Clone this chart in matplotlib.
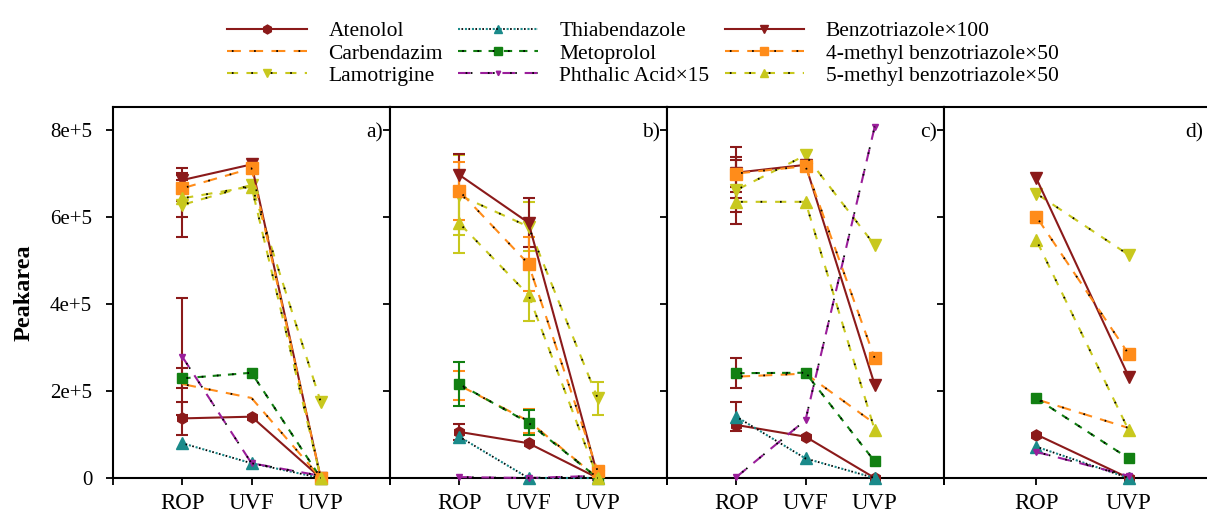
import numpy as np
import matplotlib
matplotlib.use("Agg")
import matplotlib.pyplot as plt
from matplotlib.legend_handler import HandlerTuple

plt.rcParams["font.family"] = ["Liberation Serif", "DejaVu Serif"]
plt.rcParams["lines.scale_dashes"] = False

###############
# The data    #
###############
series = ["Atenolol", "Carbendazim", "Lamotrigine",
          "Thiabendazole", "Metoprolol", "Phthalic Acid×15",
          "Benzotriazole×100", "4-methyl benzotriazole×50", "5-methyl benzotriazole×50"]

cats_abc = ["ROP", "UVF", "UVP"]
cats_d = ["ROP", "UVP"]
panel_labels = ["a)", "b)", "c)", "d)"]
ytick_values = [0, 2e5, 4e5, 6e5, 8e5]
ytick_labels = ["0", "2e+5", "4e+5", "6e+5", "8e+5"]

# peak areas, one list per series, per panel
panel_a = {
    "Atenolol": [137e3, 141e3, 0],
    "Carbendazim": [216e3, 184e3, 0],
    "Lamotrigine": [628e3, 674e3, 175e3],
    "Thiabendazole": [80e3, 34e3, 0],
    "Metoprolol": [229e3, 242e3, 0],
    "Phthalic Acid×15": [279e3, 34e3, 5e3],
    "Benzotriazole×100": [685e3, 721e3, 0],
    "4-methyl benzotriazole×50": [666e3, 712e3, 0],
    "5-methyl benzotriazole×50": [643e3, 670e3, 0],
}
panel_a_err = {
    "Atenolol": [38e3, 0, 0],
    "Lamotrigine": [73e3, 0, 0],
    "Metoprolol": [23e3, 0, 0],
    "Phthalic Acid×15": [134e3, 0, 0],
    "Benzotriazole×100": [27e3, 0, 0],
    "4-methyl benzotriazole×50": [30e3, 0, 0],
    "5-methyl benzotriazole×50": [42e3, 0, 0],
}

panel_b = {
    "Atenolol": [106e3, 80e3, 0],
    "Carbendazim": [213e3, 131e3, 0],
    "Lamotrigine": [650e3, 578e3, 183e3],
    "Thiabendazole": [95e3, 0, 0],
    "Metoprolol": [216e3, 127e3, 0],
    "Phthalic Acid×15": [2e3, 0, 5e3],
    "Benzotriazole×100": [697e3, 587e3, 5e3],
    "4-methyl benzotriazole×50": [660e3, 492e3, 15e3],
    "5-methyl benzotriazole×50": [586e3, 421e3, 0],
}
panel_b_err = {
    "Atenolol": [19e3, 0, 0],
    "Carbendazim": [33e3, 27e3, 0],
    "Lamotrigine": [92e3, 57e3, 38e3],
    "Metoprolol": [50e3, 29e3, 0],
    "Phthalic Acid×15": [0, 0, 10e3],
    "Benzotriazole×100": [48e3, 56e3, 0],
    "4-methyl benzotriazole×50": [67e3, 63e3, 0],
    "5-methyl benzotriazole×50": [69e3, 61e3, 0],
}

panel_c = {
    "Atenolol": [122e3, 95e3, 0],
    "Carbendazim": [233e3, 240e3, 125e3],
    "Lamotrigine": [662e3, 742e3, 535e3],
    "Thiabendazole": [141e3, 45e3, 0],
    "Metoprolol": [241e3, 242e3, 38e3],
    "Phthalic Acid×15": [2e3, 133e3, 808e3],
    "Benzotriazole×100": [702e3, 720e3, 214e3],
    "4-methyl benzotriazole×50": [700e3, 717e3, 275e3],
    "5-methyl benzotriazole×50": [635e3, 635e3, 110e3],
}
panel_c_err = {
    "Lamotrigine": [77e3, 0, 0],
    "Thiabendazole": [34e3, 0, 0],
    "Metoprolol": [35e3, 0, 0],
    "Benzotriazole×100": [58e3, 0, 0],
    "4-methyl benzotriazole×50": [31e3, 0, 0],
    "5-methyl benzotriazole×50": [23e3, 0, 0],
}

panel_d = {
    "Atenolol": [100e3, 0],
    "Carbendazim": [181e3, 115e3],
    "Lamotrigine": [654e3, 513e3],
    "Thiabendazole": [72e3, 0],
    "Metoprolol": [183e3, 45e3],
    "Phthalic Acid×15": [60e3, 5e3],
    "Benzotriazole×100": [689e3, 233e3],
    "4-methyl benzotriazole×50": [601e3, 285e3],
    "5-methyl benzotriazole×50": [547e3, 110e3],
}
panel_d_err = {}

###############
# Styles      #
###############
dark_red = "#8b1a1a"
orange = "#ff8c1a"
olive = "#c8c81e"
teal = "#1a8a8a"
green = "#128012"
purple = "#9a1e9a"

# color, marker, marker size, dash pattern (None = solid), black dot pattern
styles = {
    "Atenolol": (dark_red, "h", 8, None, None),
    "Carbendazim": (orange, "", 0, (0, (10, 6)), (12.5, (1.2, 14.8))),
    "Lamotrigine": (olive, "v", 8, (0, (8, 6)), (10.5, (1.2, 12.8))),
    "Thiabendazole": (teal, "^", 8, (0, (1.5, 3.5)), (2.5, (1.2, 3.8))),
    "Metoprolol": (green, "s", 7, (0, (6, 5)), (8, (1.2, 9.8))),
    "Phthalic Acid×15": (purple, "v", 4, (0, (9, 7)), (10.5, (1.2, 2.5, 1.2, 11.1))),
    "Benzotriazole×100": (dark_red, "v", 8, None, None),
    "4-methyl benzotriazole×50": (orange, "s", 8, (0, (10, 6)), (12.5, (1.2, 14.8))),
    "5-methyl benzotriazole×50": (olive, "^", 8, (0, (8, 6)), (10.5, (1.2, 12.8))),
}

panels = [(panel_a, panel_a_err, cats_abc, dark_red),
          (panel_b, panel_b_err, cats_abc, None),
          (panel_c, panel_c_err, cats_abc, dark_red),
          (panel_d, panel_d_err, cats_d, None)]

fig = plt.figure(figsize=(12.07, 5.19), dpi=100)
W, H = 1207.0, 519.0
ax_left, ax_w = 113 / W, 277 / W
ax_bottom, ax_h = (H - 478) / H, (478 - 107) / H

handles = {}
for i, (data, errs, cats, ecol) in enumerate(panels):
    ax = fig.add_axes([ax_left + i * ax_w, ax_bottom, ax_w, ax_h])
    x = np.arange(1, len(cats) + 1)
    for name in series:
        color, marker, ms, dash, dots = styles[name]
        y = np.array(data[name])
        if dash is None:
            ln, = ax.plot(x, y, color=color, lw=1.5, marker=marker, ms=ms,
                          clip_on=False, zorder=3)
            parts = (ln,)
        else:
            ln, = ax.plot(x, y, color=color, lw=1.5, linestyle=dash, marker=marker,
                          ms=ms, clip_on=False, zorder=3)
            dt, = ax.plot(x, y, color="black", lw=1.3, linestyle=dots, clip_on=False,
                          zorder=3.1)
            parts = (ln, dt)
        if name in errs:
            e = np.array(errs[name])
            keep = e > 0
            ax.errorbar(x[keep], y[keep], yerr=e[keep], fmt="none",
                        ecolor=ecol if ecol else color, elinewidth=1.5,
                        capsize=4.5, capthick=1.5, zorder=2.5, clip_on=False)
        handles[name] = parts

    ax.set_xlim(0, len(cats) + 1)
    ax.set_xticks(np.arange(0, len(cats) + 2))
    ax.set_xticklabels([""] + cats + [""])
    ax.set_ylim(0, 853e3)
    ax.set_yticks(ytick_values)
    if i == 0:
        ax.set_yticklabels(ytick_labels)
    else:
        ax.set_yticklabels([])
    ax.tick_params(direction="out", length=5, width=1.3)
    ax.tick_params(axis="x", labelsize=16.5, pad=6)
    ax.tick_params(axis="y", labelsize=15, pad=10)
    for sp in ax.spines.values():
        sp.set_linewidth(1.5)
    lx = 0.975 if i < 3 else 0.935
    ax.text(lx, 0.955, panel_labels[i], transform=ax.transAxes, ha="right", va="top",
            fontsize=15.5)

fig.text(24 / W, 0.437, "Peakarea", rotation=90, fontsize=17.5, fontweight="bold",
         ha="center", va="center")

fig.legend([handles[n] for n in series], series, ncol=3, frameon=False,
           loc="upper left", bbox_to_anchor=(208 / W, 1 - 2 / H),
           handlelength=3.7, handletextpad=1.0, columnspacing=0.7,
           labelspacing=0.1, fontsize=15.5, numpoints=1, markerscale=0.8,
           handler_map={tuple: HandlerTuple(ndivide=1)})

fig.savefig("out.png", dpi=100)
